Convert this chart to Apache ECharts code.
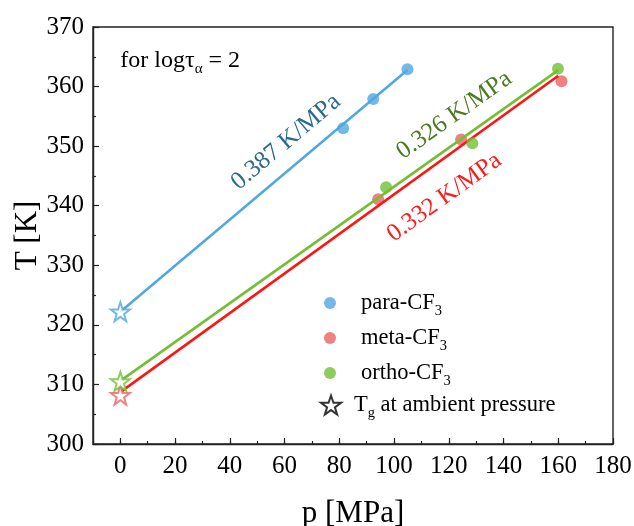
<!DOCTYPE html>
<html>
<head>
<meta charset="utf-8">
<script src="https://cdn.jsdelivr.net/npm/echarts@6/dist/echarts.min.js"></script>
<style>
  html, body { margin: 0; padding: 0; background: #fff; }
  #chart { width: 634px; height: 526px; }
</style>
</head>
<body>
<div id="chart"></div>
<script>
// Pressure dependence of the temperature at log(tau_alpha) = 2
const xTicks = [0, 20, 40, 60, 80, 100, 120, 140, 160, 180];
const yTicks = [300, 310, 320, 330, 340, 350, 360, 370];

const seriesNames = ['para-CF3', 'meta-CF3', 'ortho-CF3'];
const paraP = [81.4, 92.4, 104.9];
const paraT = [353.0, 357.9, 362.9];
const metaP = [94.2, 124.5, 161.2];
const metaT = [341.1, 351.1, 360.9];
const orthoP = [97.1, 128.6, 159.9];
const orthoT = [343.1, 350.5, 363.0];

// glass transition temperatures at ambient pressure (p = 0)
const tgP = [0, 0, 0];
const tgT = [322.2, 308.2, 310.5];

// linear fits: slope in K/MPa, intercept in K, last pressure of the fitted range
const fitSlope = [0.387, 0.332, 0.326];
const fitIntercept = [322.2, 308.7, 310.6];
const fitEnd = [105, 160, 160];
const slopeLabels = ['0.387 K/MPa', '0.332 K/MPa', '0.326 K/MPa'];

const pointColors = ['#4FA8E0', '#EC6161', '#72BF36'];
const lineColors = ['#4FA8E0', '#FF1414', '#72BF36'];
const labelColors = ['#2C6A8E', '#FF1A1A', '#4C7A20'];

const FONT = '"Liberation Serif", "Times New Roman", serif';
const STAR = 'path://M50,0 L61.8,35.1 L98.1,35.1 L68.8,56.8 L79.4,91 L50,70 L20.6,91 L31.2,56.8 L1.9,35.1 L38.2,35.1 Z';

const pairs = (xs, ys) => xs.map((x, i) => [x, ys[i]]);
const fitLine = i => [[0, fitIntercept[i]], [fitEnd[i], fitIntercept[i] + fitSlope[i] * fitEnd[i]]];

const chart = echarts.init(document.getElementById('chart'), null, { renderer: 'canvas' });

const subRich = {
  w: { width: 20 },
  a: { fontFamily: FONT, fontSize: 22.5, color: '#000', lineHeight: 24 },
  s: { fontFamily: FONT, fontSize: 14.5, color: '#000', verticalAlign: 'top', padding: [13, 0, 0, 0], lineHeight: 14 }
};

const option = {
  animation: false,
  backgroundColor: '#fff',
  grid: {
    left: 93, right: 21, top: 27, bottom: 82,
    containLabel: false, outerBoundsMode: 'none',
    show: true, borderColor: '#222', borderWidth: 1.4, backgroundColor: 'transparent'
  },
  xAxis: [{
    type: 'value', min: -10, max: 180, interval: 10,
    name: 'p [MPa]', nameLocation: 'middle', nameGap: 54, nameMoveOverlap: false,
    nameTextStyle: { fontFamily: FONT, fontSize: 31, color: '#000' },
    axisLine: { show: true, onZero: false, lineStyle: { color: '#222', width: 1.4 } },
    axisTick: { show: true, inside: true, length: 3, lineStyle: { color: '#222', width: 1.2 } },
    axisLabel: {
      show: true, customValues: xTicks, margin: 10,
      fontFamily: FONT, fontSize: 25, color: '#000'
    },
    splitLine: { show: false }
  }, {
    type: 'value', min: -10, max: 180, position: 'bottom', gridIndex: 0,
    axisLine: { show: false },
    axisTick: { show: true, inside: true, length: 6, customValues: xTicks, lineStyle: { color: '#222', width: 1.2 } },
    axisLabel: { show: false },
    splitLine: { show: false }
  }],
  yAxis: {
    type: 'value', min: yTicks[0], max: yTicks[yTicks.length - 1], interval: 10,
    name: 'T [K]', nameLocation: 'middle', nameGap: 50, nameRotate: 90, nameMoveOverlap: false,
    nameTextStyle: { fontFamily: FONT, fontSize: 31, color: '#000' },
    axisLine: { show: true, onZero: false, lineStyle: { color: '#222', width: 1.4 } },
    axisTick: { show: true, inside: true, length: 6, lineStyle: { color: '#222', width: 1.2 } },
    minorTick: { show: true, splitNumber: 2, length: 3, lineStyle: { color: '#222', width: 1.2 } },
    axisLabel: { margin: 9, fontFamily: FONT, fontSize: 25, color: '#000' },
    splitLine: { show: false }
  },
  legend: [{
    orient: 'vertical', left: 319, top: 286, itemWidth: 12, itemHeight: 12, itemGap: 7,
    data: seriesNames.map(n => ({ name: n, icon: 'circle' })),
    formatter: n => '{w|}{a|' + n.replace('3', '') + '}{s|3}',
    textStyle: { rich: subRich }
  }, {
    orient: 'vertical', left: 315, top: 388, itemWidth: 20, itemHeight: 20,
    data: [{ name: 'Tg at ambient pressure', icon: STAR }],
    formatter: () => '{w|}{a|T}{s|g}{a| at ambient pressure}',
    textStyle: { rich: Object.assign({}, subRich, { w: { width: 8 } }) }
  }],
  series: [
    {
      name: seriesNames[1], type: 'scatter', data: pairs(metaP, metaT),
      symbol: 'circle', symbolSize: 12, itemStyle: { color: pointColors[1] }, z: 2
    },
    ...[0, 1, 2].map(i => ({
      name: 'fit ' + seriesNames[i], type: 'line', data: fitLine(i),
      showSymbol: false, symbol: 'none', silent: true,
      lineStyle: { color: lineColors[i], width: 2.6 }, z: 3
    })),
    {
      name: seriesNames[0], type: 'scatter', data: pairs(paraP, paraT),
      symbol: 'circle', symbolSize: 12, itemStyle: { color: pointColors[0] }, z: 4
    },
    {
      name: seriesNames[2], type: 'scatter', data: pairs(orthoP, orthoT),
      symbol: 'circle', symbolSize: 12, itemStyle: { color: pointColors[2] }, z: 4
    },
    {
      name: 'Tg at ambient pressure', type: 'scatter', symbol: STAR, symbolSize: 19,
      itemStyle: { color: '#fff', borderColor: '#000', borderWidth: 1.6 },
      data: tgT.map((t, i) => ({
        value: [tgP[i], t],
        itemStyle: { color: '#fff', borderColor: pointColors[i], borderWidth: 2 }
      })),
      z: 5
    }
  ]
};

chart.setOption(option);

// annotations placed in data coordinates
const slopeAnchors = [[60.5, 350.7], [118.4, 341.4], [122, 355.2]];
const graphics = slopeLabels.map((txt, i) => {
  const c = chart.convertToPixel({ gridIndex: 0 }, slopeAnchors[i]);
  const p0 = chart.convertToPixel({ gridIndex: 0 }, fitLine(i)[0]);
  const p1 = chart.convertToPixel({ gridIndex: 0 }, fitLine(i)[1]);
  const ang = Math.atan2(p0[1] - p1[1], p1[0] - p0[0]);
  return {
    type: 'text', x: c[0], y: c[1], rotation: ang, z: 10,
    style: {
      text: txt, fill: labelColors[i], font: '25px ' + FONT,
      align: 'center', verticalAlign: 'middle'
    }
  };
});
const noteAt = chart.convertToPixel({ gridIndex: 0 }, [0, 364.4]);
graphics.push({
  type: 'text', x: noteAt[0], y: noteAt[1], z: 10,
  style: {
    text: '{a|for log\u03c4}{s|\u03b1}{a| = 2}',
    align: 'left', verticalAlign: 'middle',
    rich: {
      a: { fontFamily: FONT, fontSize: 24, fill: '#000', lineHeight: 26 },
      s: { fontFamily: FONT, fontSize: 15, fill: '#000', verticalAlign: 'top', padding: [14, 0, 0, 0], lineHeight: 15 }
    }
  }
});
chart.setOption({ graphic: graphics });
</script>
</body>
</html>
